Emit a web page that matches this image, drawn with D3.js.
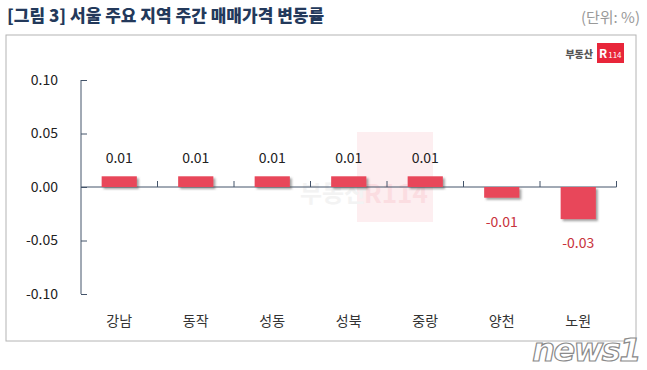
<!DOCTYPE html>
<html>
<head>
<meta charset="utf-8">
<script src="https://cdn.jsdelivr.net/npm/d3@7"></script>
<style>
  body { margin: 0; background: #fff; }
  svg { display: block; font-family: "Noto Sans CJK KR", "Noto Sans", sans-serif; }
</style>
</head>
<body>
<div id="chart"></div>
<script>
// 서울 주요 지역 주간 매매가격 변동률
const categories = ["강남", "동작", "성동", "성북", "중랑", "양천", "노원"];
const values = [0.01, 0.01, 0.01, 0.01, 0.01, -0.01, -0.03];
const yTicks = [0.10, 0.05, 0.00, -0.05, -0.10];

const w = 647, h = 370;
const barColor = "#e8475a";
const axisColor = "#44546a";
const fmt = v => v.toFixed(2);

const svg = d3.select("#chart").append("svg")
  .attr("width", w).attr("height", h);

const defs = svg.append("defs");
defs.append("filter").attr("id", "shadow")
  .attr("x", "-20%").attr("y", "-40%").attr("width", "160%").attr("height", "200%")
  .append("feDropShadow")
  .attr("dx", 2).attr("dy", 2).attr("stdDeviation", 1.3)
  .attr("flood-color", "#555").attr("flood-opacity", 0.55);

// title
svg.append("text")
  .attr("x", 7).attr("y", 22)
  .attr("font-size", 17).attr("font-weight", 900)
  .attr("fill", "#23395b")
  .text("[그림 3] 서울 주요 지역 주간 매매가격 변동률");

svg.append("text")
  .attr("x", 640).attr("y", 23)
  .attr("text-anchor", "end")
  .attr("font-size", 15).attr("fill", "#999")
  .text("(단위: %)");

// panel
svg.append("rect")
  .attr("x", 6).attr("y", 35).attr("width", 630).attr("height", 306)
  .attr("fill", "#fff").attr("stroke", "#b4b4b4").attr("stroke-width", 1);

// faint watermark
svg.append("rect")
  .attr("x", 357).attr("y", 132).attr("width", 76).attr("height", 90)
  .attr("fill", "#fdeef0");
svg.append("text")
  .attr("x", 300).attr("y", 202)
  .attr("font-size", 24).attr("font-weight", "bold")
  .attr("fill", "#f3f3f3")
  .text("부동산");
svg.append("text")
  .attr("x", 364).attr("y", 203)
  .attr("font-size", 26).attr("font-weight", "bold")
  .attr("fill", "#fbdde1")
  .text("R114");

// logo top right
svg.append("text")
  .attr("x", 593).attr("y", 58)
  .attr("text-anchor", "end")
  .attr("font-size", 10).attr("font-weight", 900)
  .attr("fill", "#555")
  .text("부동산");
svg.append("rect")
  .attr("x", 597).attr("y", 43).attr("width", 27).attr("height", 20)
  .attr("fill", "#e8263a");
const logo = svg.append("text")
  .attr("x", 599).attr("y", 58)
  .attr("fill", "#fff");
logo.append("tspan").attr("font-size", 12).attr("font-weight", "bold").text("R");
logo.append("tspan").attr("font-size", 8).attr("dx", 1).text("114");

// scales
const x = d3.scaleBand()
  .domain(categories)
  .range([81, 616.5])
  .paddingInner(0.54)
  .paddingOuter(0.27);

const y = d3.scaleLinear()
  .domain([-0.1, 0.1])
  .range([294, 80]);

// y axis
const yAxis = d3.axisLeft(y)
  .tickValues(yTicks)
  .tickSize(-6)
  .tickPadding(23)
  .tickFormat(fmt);

const gy = svg.append("g")
  .attr("transform", "translate(81,0)")
  .call(yAxis);
gy.select(".domain").attr("stroke", axisColor).attr("d", "M0," + y(0.1) + "V" + y(-0.1));
gy.selectAll(".tick line").attr("stroke", axisColor);
gy.selectAll(".tick text")
  .attr("font-size", 14).attr("fill", "#222")
  .attr("font-family", "\"Noto Sans CJK KR\", sans-serif");

// x axis at zero
const xStart = x.range()[0], xEnd = x.range()[1];
svg.append("line")
  .attr("x1", xStart).attr("x2", xEnd)
  .attr("y1", y(0)).attr("y2", y(0))
  .attr("stroke", axisColor);

const bounds = d3.range(1, categories.length + 1).map(i => xStart + i * x.step());
svg.append("g").selectAll("line")
  .data(bounds)
  .enter().append("line")
  .attr("x1", d => d).attr("x2", d => d)
  .attr("y1", y(0)).attr("y2", y(0) - 6)
  .attr("stroke", axisColor);

// bars
const data = categories.map((c, i) => ({ cat: c, val: values[i] }));

svg.append("g").selectAll("rect")
  .data(data)
  .enter().append("rect")
  .attr("x", d => x(d.cat))
  .attr("y", d => y(Math.max(0, d.val)))
  .attr("width", x.bandwidth())
  .attr("height", d => Math.abs(y(d.val) - y(0)))
  .attr("fill", barColor)
  .attr("filter", "url(#shadow)");

// value labels
svg.append("g").selectAll("text")
  .data(data)
  .enter().append("text")
  .attr("x", d => x(d.cat) + x.bandwidth() / 2)
  .attr("y", d => d.val >= 0 ? y(d.val) - 13 : y(d.val) + 29)
  .attr("text-anchor", "middle")
  .attr("font-size", 14)
  .attr("fill", d => d.val >= 0 ? "#222" : "#c8333c")
  .text(d => fmt(d.val));

// category labels
svg.append("g").selectAll("text")
  .data(categories)
  .enter().append("text")
  .attr("x", d => x(d) + x.bandwidth() / 2)
  .attr("y", 326)
  .attr("text-anchor", "middle")
  .attr("font-size", 14)
  .attr("fill", "#333")
  .text(d => d);

// news1 mark
svg.append("text")
  .attr("x", 640).attr("y", 361)
  .attr("text-anchor", "end")
  .attr("font-size", 32).attr("font-weight", "bold").attr("font-style", "italic")
  .attr("font-family", "\"DejaVu Sans\", sans-serif")
  .attr("fill", "#fff").attr("stroke", "#8a8a8a").attr("stroke-width", 1.2)
  .attr("letter-spacing", -1.5)
  .text("news1");
</script>
</body>
</html>
